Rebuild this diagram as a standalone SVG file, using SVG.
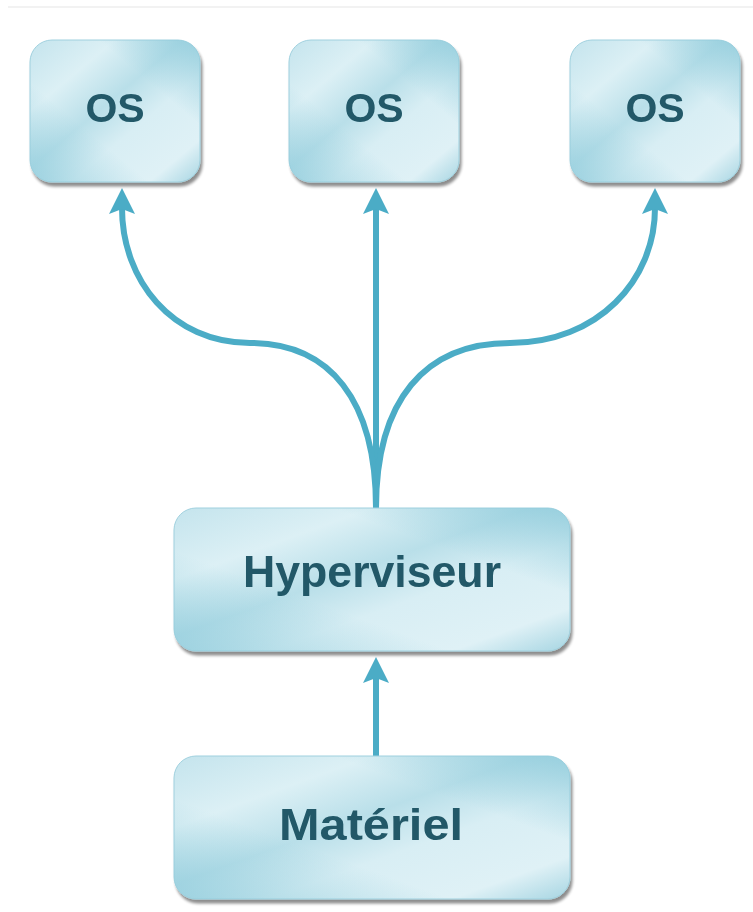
<svg xmlns="http://www.w3.org/2000/svg" width="753" height="912" viewBox="0 0 753 912">
<defs>
<linearGradient id="fill" x1="0" y1="0" x2="1" y2="1">
<stop offset="0" stop-color="#c4e4ed"/>
<stop offset="0.25" stop-color="#dcf0f5"/>
<stop offset="0.45" stop-color="#b9dfe9"/>
<stop offset="0.62" stop-color="#d8eef4"/>
<stop offset="0.85" stop-color="#dff1f6"/>
<stop offset="1" stop-color="#a6d5e2"/>
</linearGradient>
<linearGradient id="fill2" x1="1" y1="0" x2="0" y2="1">
<stop offset="0" stop-color="#8ecbdb" stop-opacity="0.8"/>
<stop offset="0.3" stop-color="#8ecbdb" stop-opacity="0"/>
<stop offset="0.65" stop-color="#8ecbdb" stop-opacity="0"/>
<stop offset="1" stop-color="#8ecbdb" stop-opacity="0.7"/>
</linearGradient>
<filter id="sh" x="-10%" y="-10%" width="125%" height="130%">
<feGaussianBlur in="SourceAlpha" stdDeviation="1.5"/>
<feOffset dx="2" dy="4" result="b"/>
<feComponentTransfer><feFuncA type="linear" slope="0.45"/></feComponentTransfer>
<feMerge><feMergeNode/><feMergeNode in="SourceGraphic"/></feMerge>
</filter>
<marker id="arr" markerUnits="userSpaceOnUse" markerWidth="30" markerHeight="30" refX="6" refY="13" orient="auto">
<path d="M0,0 L26,13 L0,26 L5,13 Z" fill="#4bacc6"/>
</marker>
</defs>
<style>
.box{fill:url(#fill);stroke:#9fd0de;stroke-width:1}
.ov{fill:url(#fill2)}
.lbl{font-family:"Liberation Sans",Arial,sans-serif;font-weight:bold;fill:#215868;text-anchor:middle}
.con{fill:none;stroke:#4bacc6;stroke-width:6}
</style>
<line x1="8" y1="7" x2="753" y2="7" stroke="#f2f2f2" stroke-width="2"/>
<g id="connectors">
<path class="con" d="M376,508 L376,208" marker-end="url(#arr)"/>
<path class="con" d="M376,508 C376,400 330,343 250,343 C172,343 122,280 122,208" marker-end="url(#arr)"/>
<path class="con" d="M376,508 C376,400 425,343 510,343 C598,343 655,280 655,208" marker-end="url(#arr)"/>
<path class="con" d="M376,756 L376,677" marker-end="url(#arr)"/>
</g>
<g id="os1" filter="url(#sh)">
<rect class="box" x="30" y="40" width="170" height="142" rx="22"/>
<rect class="ov" x="30" y="40" width="170" height="142" rx="22"/>
<text class="lbl" x="115" y="122" font-size="41">OS</text>
</g>
<g id="os2" filter="url(#sh)">
<rect class="box" x="289" y="40" width="170" height="142" rx="22"/>
<rect class="ov" x="289" y="40" width="170" height="142" rx="22"/>
<text class="lbl" x="374" y="122" font-size="41">OS</text>
</g>
<g id="os3" filter="url(#sh)">
<rect class="box" x="570" y="40" width="170" height="142" rx="22"/>
<rect class="ov" x="570" y="40" width="170" height="142" rx="22"/>
<text class="lbl" x="655" y="122" font-size="41">OS</text>
</g>
<g id="hyperviseur" filter="url(#sh)">
<rect class="box" x="174" y="508" width="396" height="143" rx="22"/>
<rect class="ov" x="174" y="508" width="396" height="143" rx="22"/>
<text class="lbl" x="372" y="587" font-size="44" textLength="258" lengthAdjust="spacingAndGlyphs">Hyperviseur</text>
</g>
<g id="materiel" filter="url(#sh)">
<rect class="box" x="174" y="756" width="396" height="143" rx="22"/>
<rect class="ov" x="174" y="756" width="396" height="143" rx="22"/>
<text class="lbl" x="371" y="840" font-size="44" textLength="184" lengthAdjust="spacingAndGlyphs">Matériel</text>
</g>
</svg>
